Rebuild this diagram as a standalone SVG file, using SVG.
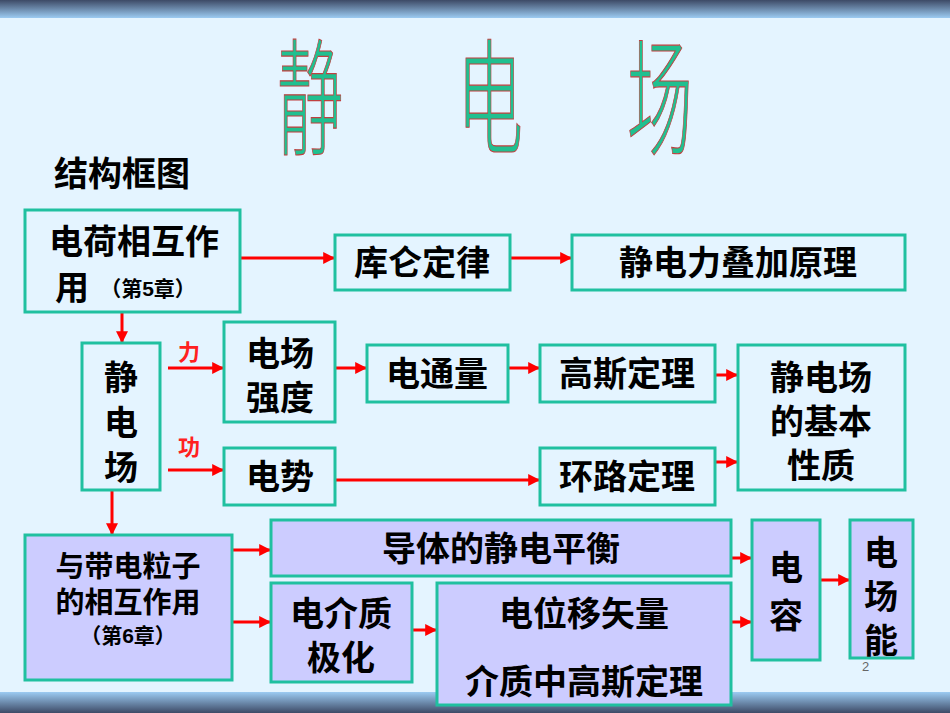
<svg xmlns="http://www.w3.org/2000/svg" width="950" height="713" viewBox="0 0 950 713">
<defs>
<linearGradient id="top" x1="0" y1="0" x2="0" y2="1"><stop offset="0" stop-color="#3d4a66"/><stop offset="1" stop-color="#9ccbf2"/></linearGradient>
<linearGradient id="bot" x1="0" y1="0" x2="0" y2="1"><stop offset="0" stop-color="#9ccbf2"/><stop offset="1" stop-color="#3d4a66"/></linearGradient>
<marker id="ah" viewBox="0 0 10 10" refX="9" refY="5" markerWidth="4" markerHeight="4" orient="auto"><path d="M0,0 L10,5 L0,10 z" fill="#ff0000"/></marker>
</defs>
<style>
.b{fill:#e4f4ff;stroke:#20c0a0;stroke-width:3}
.p{fill:#ccccff;stroke:#20c0a0;stroke-width:3}
.t{font-family:"Liberation Sans","Noto Sans CJK SC",sans-serif;font-weight:bold;font-size:34px;fill:#000;text-anchor:middle}
.s{font-size:21px}
.a{stroke:#ff0000;stroke-width:3;fill:none;marker-end:url(#ah)}
.ti{font-family:"Noto Sans CJK SC",sans-serif;font-weight:300;font-size:110px;fill:#20c090;stroke:#c04040;stroke-width:1;text-anchor:middle}
.r{font-family:"Noto Sans CJK SC",sans-serif;font-size:22px;fill:#ff2020;font-weight:bold}
</style>
<rect width="950" height="713" fill="#e4f4ff"/>
<rect width="950" height="18" fill="url(#top)"/>
<rect y="692" width="950" height="21" fill="url(#bot)"/>
<g id="title">
<text class="ti" transform="translate(310,145) scale(0.6,1.15)">静</text>
<text class="ti" transform="translate(490,145) scale(0.6,1.15)">电</text>
<text class="ti" transform="translate(660,145) scale(0.6,1.15)">场</text>
</g>
<text class="t" x="122" y="186" text-anchor="middle">结构框图</text>
<g id="connectors">
<line class="a" x1="240" y1="258" x2="334" y2="258"/>
<line class="a" x1="510" y1="258" x2="571" y2="258"/>
<line class="a" x1="122" y1="312" x2="122" y2="342"/>
<line class="a" x1="168" y1="368" x2="223" y2="368"/>
<line class="a" x1="168" y1="470" x2="223" y2="470"/>
<line class="a" x1="335" y1="368" x2="366" y2="368"/>
<line class="a" x1="508" y1="368" x2="539" y2="368"/>
<line class="a" x1="715" y1="375" x2="737" y2="375"/>
<line class="a" x1="335" y1="480" x2="539" y2="480"/>
<line class="a" x1="715" y1="462" x2="737" y2="462"/>
<line class="a" x1="112" y1="490" x2="112" y2="534"/>
<line class="a" x1="232" y1="550" x2="270" y2="550"/>
<line class="a" x1="232" y1="622" x2="270" y2="622"/>
<line class="a" x1="412" y1="630" x2="436" y2="630"/>
<line class="a" x1="731" y1="558" x2="751" y2="558"/>
<line class="a" x1="731" y1="622" x2="751" y2="622"/>
<line class="a" x1="820" y1="580" x2="849" y2="580"/>
<text class="r" x="178" y="360">力</text>
<text class="r" x="178" y="455">功</text>
</g>
<g id="n1"><rect class="b" x="25" y="210" width="215" height="102"/><text class="t" x="134" y="254">电荷相互作</text><text class="t" x="72" y="300">用</text><text class="t s" x="148" y="296">（第5章）</text></g>
<g id="n2"><rect class="b" x="335" y="235" width="175" height="55"/><text class="t" x="422" y="275">库仑定律</text></g>
<g id="n3"><rect class="b" x="572" y="235" width="333" height="55"/><text class="t" x="738" y="275">静电力叠加原理</text></g>
<g id="n4"><rect class="b" x="82" y="343" width="78" height="147"/><text class="t" x="121" y="390">静</text><text class="t" x="121" y="435">电</text><text class="t" x="121" y="480">场</text></g>
<g id="n5"><rect class="b" x="224" y="322" width="111" height="100"/><text class="t" x="280" y="366">电场</text><text class="t" x="280" y="410">强度</text></g>
<g id="n6"><rect class="b" x="367" y="345" width="141" height="57"/><text class="t" x="437" y="386">电通量</text></g>
<g id="n7"><rect class="b" x="540" y="345" width="175" height="57"/><text class="t" x="627" y="386">高斯定理</text></g>
<g id="n8"><rect class="b" x="738" y="345" width="167" height="145"/><text class="t" x="821" y="390">静电场</text><text class="t" x="821" y="434">的基本</text><text class="t" x="821" y="478">性质</text></g>
<g id="n9"><rect class="b" x="224" y="448" width="111" height="57"/><text class="t" x="280" y="489">电势</text></g>
<g id="n10"><rect class="b" x="540" y="448" width="175" height="57"/><text class="t" x="627" y="489">环路定理</text></g>
<g id="n11"><rect class="p" x="25" y="535" width="207" height="145"/><text class="t" x="128" y="577" style="font-size:29px">与带电粒子</text><text class="t" x="128" y="613" style="font-size:29px">的相互作用</text><text class="t s" x="128" y="643">（第6章）</text></g>
<g id="n12"><rect class="p" x="271" y="520" width="460" height="56"/><text class="t" x="501" y="561">导体的静电平衡</text></g>
<g id="n13"><rect class="p" x="271" y="583" width="141" height="99"/><text class="t" x="341" y="626">电介质</text><text class="t" x="341" y="670">极化</text></g>
<g id="n14"><rect class="p" x="437" y="583" width="294" height="122"/><text class="t" x="584" y="626">电位移矢量</text><text class="t" x="584" y="694">介质中高斯定理</text></g>
<g id="n15"><rect class="p" x="752" y="520" width="68" height="140"/><text class="t" x="786" y="580">电</text><text class="t" x="786" y="628">容</text></g>
<g id="n16"><rect class="p" x="850" y="520" width="63" height="138"/><text class="t" x="881" y="565">电</text><text class="t" x="881" y="609">场</text><text class="t" x="881" y="653">能</text></g>
<text x="862" y="671" font-family="Liberation Sans,sans-serif" font-size="13" fill="#666">2</text>
</svg>
